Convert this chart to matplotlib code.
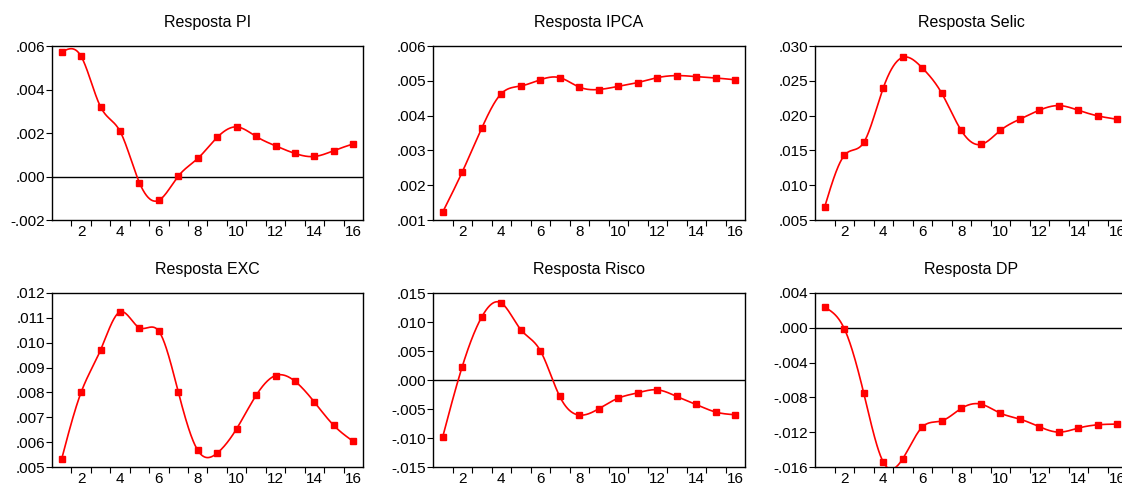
import numpy as np
import matplotlib
matplotlib.use("Agg")
import matplotlib.pyplot as plt
from matplotlib.ticker import FuncFormatter

plt.rcParams['font.family'] = ['Liberation Sans', 'DejaVu Sans']

periods = np.arange(1, 17)

titles = ["Resposta PI", "Resposta IPCA", "Resposta Selic",
          "Resposta EXC", "Resposta Risco", "Resposta DP"]

resp_pi = [0.00572, 0.00552, 0.00320, 0.00208, -0.00029, -0.00109, 0.00002, 0.00083,
           0.00180, 0.00228, 0.00184, 0.00141, 0.00106, 0.00092, 0.00119, 0.00150]
resp_ipca = [0.00123, 0.00238, 0.00364, 0.00463, 0.00485, 0.00503, 0.00509, 0.00482,
             0.00475, 0.00484, 0.00495, 0.00509, 0.00515, 0.00512, 0.00508, 0.00503]
resp_selic = [0.00691, 0.01427, 0.01614, 0.02398, 0.02837, 0.02685, 0.02321, 0.01786,
              0.01585, 0.01786, 0.01948, 0.02077, 0.02144, 0.02077, 0.01996, 0.01948]
resp_exc = [0.00533, 0.00801, 0.00971, 0.01124, 0.01060, 0.01046, 0.00801, 0.00567,
            0.00556, 0.00654, 0.00788, 0.00868, 0.00845, 0.00761, 0.00667, 0.00603]
resp_risco = [-0.00978, 0.00232, 0.01087, 0.01328, 0.00869, 0.00508, -0.00284, -0.00605,
              -0.00496, -0.00313, -0.00221, -0.00169, -0.00284, -0.00422, -0.00553, -0.00599]
resp_dp = [0.00236, -0.00009, -0.00751, -0.01543, -0.01505, -0.01141, -0.01069, -0.00927,
           -0.00877, -0.00981, -0.01049, -0.01137, -0.01199, -0.01153, -0.01115, -0.01107]

series = [resp_pi, resp_ipca, resp_selic, resp_exc, resp_risco, resp_dp]

# y axis ticks (start, stop, step) for each panel
y_ticks = [(-0.002, 0.006, 0.002), (0.001, 0.006, 0.001), (0.005, 0.030, 0.005),
           (0.005, 0.012, 0.001), (-0.015, 0.015, 0.005), (-0.016, 0.004, 0.004)]


def natural_spline(x, y, num=500):
    """Natural cubic spline through the points, returns a dense curve."""
    x = np.asarray(x, float)
    y = np.asarray(y, float)
    n = len(x)
    h = np.diff(x)
    A = np.zeros((n, n))
    b = np.zeros(n)
    A[0, 0] = A[-1, -1] = 1
    for i in range(1, n - 1):
        A[i, i - 1] = h[i - 1]
        A[i, i] = 2 * (h[i - 1] + h[i])
        A[i, i + 1] = h[i]
        b[i] = 3 * ((y[i + 1] - y[i]) / h[i] - (y[i] - y[i - 1]) / h[i - 1])
    c = np.linalg.solve(A, b)
    bc = (y[1:] - y[:-1]) / h - h * (2 * c[:-1] + c[1:]) / 3
    d = (c[1:] - c[:-1]) / (3 * h)
    xs = np.linspace(x[0], x[-1], num)
    idx = np.clip(np.searchsorted(x, xs) - 1, 0, n - 2)
    dx = xs - x[idx]
    ys = y[idx] + bc[idx] * dx + c[idx] * dx ** 2 + d[idx] * dx ** 3
    return xs, ys


def dot_fmt(v, pos):
    s = "%.3f" % v
    if s.startswith("-0"):
        return "-" + s[2:]
    if s.startswith("0"):
        return s[1:]
    return s


W, H = 1122, 486
fig = plt.figure(figsize=(W / 100, H / 100), dpi=100)

lefts = [52, 433, 815]
widths = [311, 312, 312]
tops = [46, 293]
ax_h = 174

for k in range(6):
    row, col = divmod(k, 3)
    left = lefts[col]
    top = tops[row]
    ax = fig.add_axes([left / W, (H - top - ax_h) / H, widths[col] / W, ax_h / H])

    xs, ys = natural_spline(periods, series[k])
    ax.plot(xs, ys, color="red", lw=1.2, zorder=3)
    ax.plot(periods, series[k], ls="none", marker="s", ms=4.2, color="red", zorder=4)

    lo, hi, step = y_ticks[k]
    if lo < 0 < hi:
        ax.axhline(0, color="black", lw=1.0, zorder=2)
    ax.set_ylim(lo, hi)
    ax.set_yticks(np.arange(lo, hi + step / 2, step))
    ax.yaxis.set_major_formatter(FuncFormatter(dot_fmt))

    # period boundaries get the tick marks, even periods get the labels
    ax.set_xlim(0.5, 16.5)
    ax.set_xticks(np.arange(1.5, 16.0, 1.0))
    ax.set_xticklabels([])
    ax.set_xticks(np.arange(2, 17, 2), minor=True)
    ax.set_xticklabels([str(v) for v in range(2, 17, 2)], minor=True)
    ax.tick_params(axis="x", which="major", direction="out", length=4, width=0.8)
    ax.tick_params(axis="x", which="minor", length=0, pad=3.5, labelsize=11)
    ax.tick_params(axis="y", direction="out", length=4, width=0.8, pad=1, labelsize=11)

    for sp in ax.spines.values():
        sp.set_linewidth(1.0)
        sp.set_color("black")

    ax.set_title(titles[k], fontsize=11.5, pad=14)

fig.savefig("out.png", dpi=100)
